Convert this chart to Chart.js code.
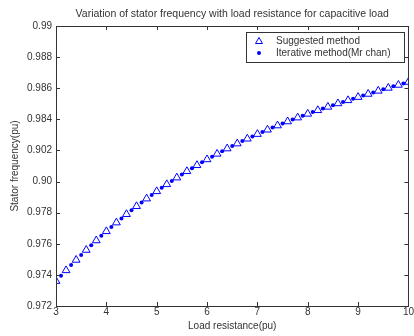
<!DOCTYPE html>
<html>
<head>
<meta charset="utf-8">
<script src="https://cdn.jsdelivr.net/npm/chart.js@4"></script>
<style>
  html, body { margin: 0; padding: 0; background: #fff; }
  #wrap { width: 414px; height: 336px; }
</style>
</head>
<body>
<div id="wrap"><canvas id="myChart"></canvas></div>
<script>
// load resistance (pu) for each series
const xSuggested = [3.0, 3.2, 3.4, 3.6, 3.8, 4.0, 4.2, 4.4, 4.6, 4.8, 5.0, 5.2, 5.4, 5.6, 5.8, 6.0, 6.2, 6.4,
    6.6, 6.8, 7.0, 7.2, 7.4, 7.6, 7.8, 8.0, 8.2, 8.4, 8.6, 8.8, 9.0, 9.2, 9.4, 9.6, 9.8, 10.0];
const ySuggested = [0.97360, 0.97429, 0.97496, 0.97560, 0.97621, 0.97680, 0.97736, 0.97790, 0.97841, 0.97890,
    0.97937, 0.97982, 0.98025, 0.98066, 0.98105, 0.98142, 0.98178, 0.98212, 0.98244, 0.98275,
    0.98305, 0.98333, 0.98360, 0.98386, 0.98411, 0.98435, 0.98458, 0.98480, 0.98502, 0.98522,
    0.98543, 0.98563, 0.98583, 0.98602, 0.98621, 0.98640];

const xIterative = [3.1, 3.3, 3.5, 3.7, 3.9, 4.1, 4.3, 4.5, 4.7, 4.9, 5.1, 5.3, 5.5, 5.7, 5.9, 6.1, 6.3, 6.5,
    6.7, 6.9, 7.1, 7.3, 7.5, 7.7, 7.9, 8.1, 8.3, 8.5, 8.7, 8.9, 9.1, 9.3, 9.5, 9.7, 9.9];
const yIterative = [0.97395, 0.97463, 0.97528, 0.97591, 0.97651, 0.97708, 0.97763, 0.97816, 0.97866, 0.97914,
    0.97960, 0.98004, 0.98046, 0.98086, 0.98124, 0.98160, 0.98195, 0.98228, 0.98260, 0.98290,
    0.98319, 0.98347, 0.98373, 0.98399, 0.98423, 0.98447, 0.98469, 0.98491, 0.98512, 0.98533,
    0.98553, 0.98573, 0.98593, 0.98612, 0.98631];

const xTicks = [3, 4, 5, 6, 7, 8, 9, 10];
const yTicks = [0.972, 0.974, 0.976, 0.978, 0.980, 0.982, 0.984, 0.986, 0.988, 0.990];
const yTickLabels = ['0.972', '0.974', '0.976', '0.978', '0.90', '0.902', '0.984', '0.986', '0.988', '0.99'];

const seriesNames = ['Suggested method', 'Iterative method(Mr chan)'];
const chartTitle = 'Variation of stator frequency with load resistance for capacitive load';

const textColor = '#333';
const fontFamily = "'Liberation Sans', Arial, sans-serif";
const blue = 'rgb(0, 0, 255)';

// box around the axes, inside ticks on all four sides, title and legend
const matlabAxes = {
    id: 'matlabAxes',
    afterDraw(chart) {
        const c = chart.ctx;
        const a = chart.chartArea;
        const xs = chart.scales.x, ys = chart.scales.y;
        c.save();
        c.strokeStyle = '#333';
        c.lineWidth = 1;
        c.strokeRect(Math.round(a.left) + 0.5, Math.round(a.top) + 0.5,
            Math.round(a.right - a.left), Math.round(a.bottom - a.top));
        c.beginPath();
        xTicks.forEach(v => {
            const px = Math.round(xs.getPixelForValue(v)) + 0.5;
            c.moveTo(px, a.bottom); c.lineTo(px, a.bottom - 4);
            c.moveTo(px, a.top); c.lineTo(px, a.top + 4);
        });
        yTicks.forEach(v => {
            const py = Math.round(ys.getPixelForValue(v)) + 0.5;
            c.moveTo(a.left, py); c.lineTo(a.left + 4, py);
            c.moveTo(a.right, py); c.lineTo(a.right - 4, py);
        });
        c.stroke();

        // title, centred over the plot box
        c.font = '10.5px ' + fontFamily;
        c.fillStyle = textColor;
        c.textAlign = 'center';
        c.textBaseline = 'middle';
        c.fillText(chartTitle, (a.left + a.right) / 2, 14);

        // legend
        const lx = 246, ly = 32, lw = 158, lh = 30;
        c.fillStyle = '#fff';
        c.fillRect(lx, ly, lw, lh);
        c.strokeStyle = '#333';
        c.strokeRect(lx + 0.5, ly + 0.5, lw, lh);
        c.font = '10px ' + fontFamily;
        c.fillStyle = textColor;
        c.textAlign = 'left';
        c.fillText(seriesNames[0], 276, ly + 9);
        c.fillText(seriesNames[1], 276, ly + 21);
        c.strokeStyle = blue;
        c.beginPath();
        c.moveTo(259, ly + 5.5); c.lineTo(262.5, ly + 11.5); c.lineTo(255.5, ly + 11.5); c.closePath();
        c.stroke();
        c.fillStyle = blue;
        c.beginPath();
        c.arc(259, ly + 21, 2, 0, Math.PI * 2);
        c.fill();
        c.restore();
    }
};

new Chart(document.getElementById('myChart'), {
    type: 'scatter',
    data: {
        datasets: [
            {
                label: seriesNames[0],
                data: xSuggested.map((x, i) => ({ x: x, y: ySuggested[i] })),
                pointStyle: 'triangle',
                pointRadius: 4.5,
                borderColor: blue,
                backgroundColor: 'rgba(255,255,255,0)',
                borderWidth: 1
            },
            {
                label: seriesNames[1],
                data: xIterative.map((x, i) => ({ x: x, y: yIterative[i] })),
                pointStyle: 'circle',
                pointRadius: 2,
                borderColor: blue,
                backgroundColor: blue,
                borderWidth: 0
            }
        ]
    },
    options: {
        responsive: true,
        maintainAspectRatio: false,
        animation: false,
        layout: { padding: { left: 0, right: 5, top: 26, bottom: 0 } },
        plugins: {
            legend: { display: false },
            tooltip: { enabled: false },
            title: { display: false }
        },
        scales: {
            x: {
                type: 'linear',
                min: 3,
                max: 10,
                afterBuildTicks: s => { s.ticks = xTicks.map(v => ({ value: v })); },
                afterFit: s => { s.height = 30; },
                grid: { display: false, drawTicks: false },
                border: { display: false },
                ticks: {
                    color: textColor,
                    font: { family: fontFamily, size: 10 },
                    padding: 0,
                    maxRotation: 0
                },
                title: {
                    display: true,
                    text: 'Load resistance(pu)',
                    color: textColor,
                    font: { family: fontFamily, size: 10 },
                    padding: { top: 2, bottom: 4 }
                }
            },
            y: {
                type: 'linear',
                min: 0.972,
                max: 0.99,
                afterBuildTicks: s => { s.ticks = yTicks.map(v => ({ value: v })); },
                afterFit: s => { s.width = 56; },
                grid: { display: false, drawTicks: false },
                border: { display: false },
                ticks: {
                    color: textColor,
                    font: { family: fontFamily, size: 10 },
                    padding: 4,
                    callback: (v, i) => yTickLabels[i]
                },
                title: {
                    display: true,
                    text: 'Stator frequency(pu)',
                    color: textColor,
                    font: { family: fontFamily, size: 10 },
                    padding: { top: 9, bottom: 0 }
                }
            }
        }
    },
    plugins: [matlabAxes]
});
</script>
</body>
</html>
